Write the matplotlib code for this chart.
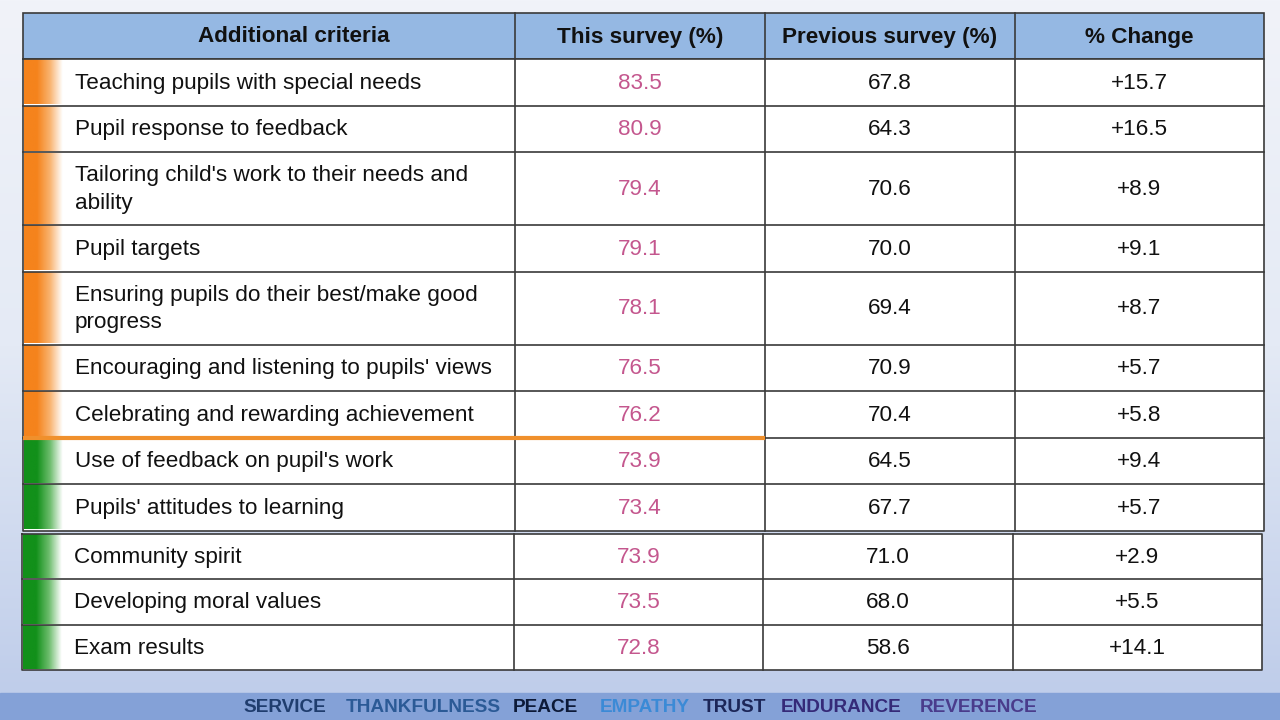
import numpy as np
import matplotlib.pyplot as plt
from matplotlib.colors import LinearSegmentedColormap

plt.rcParams["font.family"] = ["Liberation Sans", "DejaVu Sans"]

headers = ["Additional criteria", "This survey (%)", "Previous survey (%)", "% Change"]

criteria_1 = ["Teaching pupils with special needs",
              "Pupil response to feedback",
              "Tailoring child's work to their needs and\nability",
              "Pupil targets",
              "Ensuring pupils do their best/make good\nprogress",
              "Encouraging and listening to pupils' views",
              "Celebrating and rewarding achievement",
              "Use of feedback on pupil's work",
              "Pupils' attitudes to learning"]
this_1 = [83.5, 80.9, 79.4, 79.1, 78.1, 76.5, 76.2, 73.9, 73.4]
prev_1 = [67.8, 64.3, 70.6, 70.0, 69.4, 70.9, 70.4, 64.5, 67.7]
change_1 = ["+15.7", "+16.5", "+8.9", "+9.1", "+8.7", "+5.7", "+5.8", "+9.4", "+5.7"]
group_1 = ["orange"] * 7 + ["green"] * 2

criteria_2 = ["Community spirit", "Developing moral values", "Exam results"]
this_2 = [73.9, 73.5, 72.8]
prev_2 = [71.0, 68.0, 58.6]
change_2 = ["+2.9", "+5.5", "+14.1"]
group_2 = ["green"] * 3

footer_words = ["SERVICE", "THANKFULNESS", "PEACE", "EMPATHY", "TRUST", "ENDURANCE", "REVERENCE"]
footer_colors = ["#1f3d6e", "#2b5a96", "#0d1a38", "#3b8ad6", "#1c2658", "#352a78", "#4a3c8c"]
footer_x = [243, 346, 513, 600, 703, 781, 920]

FS = 16.2

fig = plt.figure(figsize=(12.8, 7.2), dpi=100)
ax = fig.add_axes([0, 0, 1, 1])
ax.set_xlim(0, 1280)
ax.set_ylim(720, 0)
ax.axis("off")

# background gradient
bg = LinearSegmentedColormap.from_list("bg", ["#f1f3f9", "#e4eaf5", "#bfcdea"])
ax.imshow(np.linspace(0, 1, 256).reshape(-1, 1), cmap=bg, aspect="auto",
          extent=[0, 1280, 693, 0], zorder=0)
ax.add_patch(plt.Rectangle((0, 693), 1280, 27, color="#84a1d7", zorder=1))

stripe_cmaps = {
    "orange": LinearSegmentedColormap.from_list("o", ["#f5831c", "#f5831c", "#f9b36f", "#ffffff"]),
    "green": LinearSegmentedColormap.from_list("g", ["#12901a", "#12901a", "#6cbc6c", "#ffffff"]),
}
grad = np.linspace(0, 1, 64).reshape(1, -1)
edge = "#3a3a3a"
pink = "#c4578e"


def draw_table(cols, top, heights, crit, this, prev, change, groups, header=False, text_x=75):
    y = top
    left, right = cols[0], cols[-1]
    if header:
        h = 46
        ax.add_patch(plt.Rectangle((left, y), right - left, h, facecolor="#95b8e3",
                                   edgecolor=edge, lw=1.2, zorder=2))
        for i, t in enumerate(headers):
            cx = (cols[i] + cols[i + 1]) / 2
            if i == 0:
                cx += 25  # first header sits right of the colour stripe
            ax.text(cx, y + h / 2 + 1, t, ha="center", va="center",
                    fontsize=FS, fontweight="bold", color="#111111", zorder=5)
        for c in cols[1:-1]:
            ax.plot([c, c], [y, y + h], color=edge, lw=1.2, zorder=4)
        y += h
    start = y
    for k in range(len(crit)):
        h = heights[k]
        ax.add_patch(plt.Rectangle((left, y), right - left, h, facecolor="white",
                                   edgecolor="none", zorder=2))
        ax.imshow(grad, cmap=stripe_cmaps[groups[k]], aspect="auto",
                  extent=[left + 1, left + 40, y + h - 1, y + 1], zorder=3)
        ax.text(text_x, y + h / 2 + 1, crit[k], ha="left", va="center", fontsize=FS,
                color="#111111", linespacing=1.4, zorder=5)
        ax.text((cols[1] + cols[2]) / 2, y + h / 2 + 1, f"{this[k]:.1f}", ha="center",
                va="center", fontsize=FS, color=pink, zorder=5)
        ax.text((cols[2] + cols[3]) / 2, y + h / 2 + 1, f"{prev[k]:.1f}", ha="center",
                va="center", fontsize=FS, color="#111111", zorder=5)
        ax.text((cols[3] + cols[4]) / 2, y + h / 2 + 1, change[k], ha="center",
                va="center", fontsize=FS, color="#111111", zorder=5)
        y += h
        if k < len(crit) - 1:
            ax.plot([left, right], [y, y], color=edge, lw=1.2, zorder=4)
    for c in cols[1:-1]:
        ax.plot([c, c], [start, y], color=edge, lw=1.2, zorder=4)
    ax.plot([left, left, right, right, left], [start, y, y, start, start],
            color=edge, lw=1.2, zorder=4)
    return y


def row_heights(labels, single):
    return [73 if "\n" in s else single for s in labels]


cols_1 = [23, 515, 765, 1015, 1264]
draw_table(cols_1, 13, row_heights(criteria_1, 46.5), criteria_1, this_1, prev_1,
           change_1, group_1, header=True, text_x=75)

# orange divider under the top seven rows
top = 59 + sum(row_heights(criteria_1, 46.5)[:7])
ax.plot([cols_1[0], cols_1[2]], [top, top], color="#f0902c", lw=3, zorder=6,
        solid_capstyle="butt")

cols_2 = [22, 514, 763, 1013, 1262]
draw_table(cols_2, 534, row_heights(criteria_2, 45.3), criteria_2, this_2, prev_2,
           change_2, group_2, text_x=74)

for word, col, x in zip(footer_words, footer_colors, footer_x):
    ax.text(x, 707, word, ha="left", va="center", fontsize=13.7, fontweight="bold",
            color=col, family=["Liberation Sans Narrow", "Liberation Sans"], zorder=5)

fig.savefig("out.png", dpi=100)
